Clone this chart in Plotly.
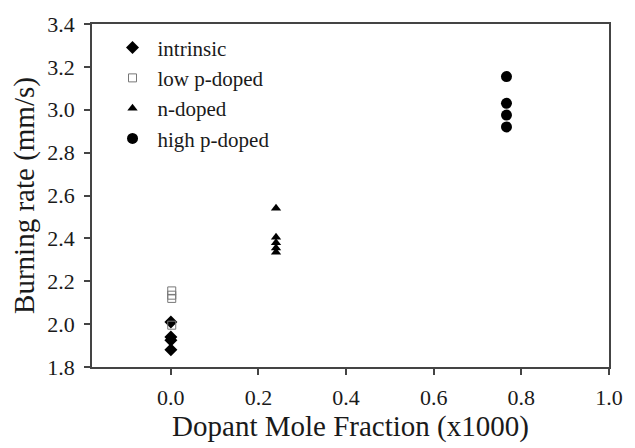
import plotly.graph_objects as go

intrinsic_x = [0.0, 0.0, 0.0, 0.0]
intrinsic_y = [2.01, 1.94, 1.925, 1.88]
lowp_x = [0.002, 0.002, 0.002, 0.002]
lowp_y = [2.155, 2.135, 2.12, 1.995]
ndoped_x = [0.24, 0.24, 0.24, 0.24, 0.24]
ndoped_y = [2.54, 2.405, 2.38, 2.355, 2.335]
highp_x = [0.766, 0.766, 0.766, 0.766]
highp_y = [3.155, 3.03, 2.975, 2.92]

x_ticks = [0.0, 0.2, 0.4, 0.6, 0.8, 1.0]
y_ticks = [1.8, 2.0, 2.2, 2.4, 2.6, 2.8, 3.0, 3.2, 3.4]

FONT = "Times New Roman, Liberation Serif, serif"
ink = "#1a1a1a"

fig = go.Figure()
fig.add_trace(go.Scatter(x=intrinsic_x, y=intrinsic_y, mode="markers", name="intrinsic",
                         marker=dict(symbol="diamond", size=10, color="black")))
fig.add_trace(go.Scatter(x=lowp_x, y=lowp_y, mode="markers", name="low p-doped",
                         marker=dict(symbol="square-open", size=8, color="#777777",
                                     line=dict(width=1))))
fig.add_trace(go.Scatter(x=ndoped_x, y=ndoped_y, mode="markers", name="n-doped",
                         marker=dict(symbol="triangle-up", size=9, color="black")))
fig.add_trace(go.Scatter(x=highp_x, y=highp_y, mode="markers", name="high p-doped",
                         marker=dict(symbol="circle", size=11, color="black")))

fig.update_layout(
    width=635, height=448,
    margin=dict(l=92, r=21, t=23, b=81),
    paper_bgcolor="white", plot_bgcolor="white",
    font=dict(family=FONT, size=18, color=ink),
    showlegend=True,
    legend=dict(x=0.03, y=0.99, xanchor="left", yanchor="top",
                bgcolor="rgba(0,0,0,0)", font=dict(family=FONT, size=21, color=ink),
                itemwidth=40, tracegroupgap=0),
)
fig.update_xaxes(range=[-0.18, 1.0], tickvals=x_ticks, ticktext=[f"{v:.1f}" for v in x_ticks],
                 ticks="outside", ticklen=6, tickcolor="#444", tickwidth=1.5,
                 ticklabelstandoff=4,
                 showline=True, linecolor="#444", linewidth=1.5, mirror=True,
                 showgrid=False, zeroline=False,
                 title=dict(text="Dopant Mole Fraction (x1000)", font=dict(family=FONT, size=29, color=ink), standoff=0),
                 tickfont=dict(family=FONT, size=22, color=ink))
fig.update_yaxes(range=[1.8, 3.4], tickvals=y_ticks, ticktext=[f"{v:.1f}" for v in y_ticks],
                 ticks="outside", ticklen=6, tickcolor="#444", tickwidth=1.5,
                 ticklabelstandoff=5,
                 showline=True, linecolor="#444", linewidth=1.5, mirror=True,
                 showgrid=False, zeroline=False,
                 title=dict(text="Burning rate (mm/s)", font=dict(family=FONT, size=29, color=ink), standoff=4),
                 tickfont=dict(family=FONT, size=22, color=ink))

fig.write_html("out.html")
